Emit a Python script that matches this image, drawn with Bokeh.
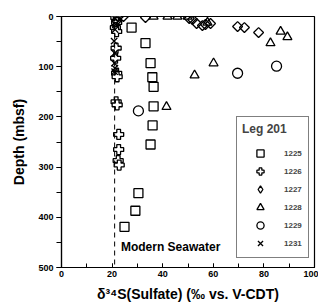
from bokeh.plotting import figure
from bokeh.models import Range1d, SingleIntervalTicker, Span, Label, Legend, LegendItem
from bokeh.embed import file_html
from bokeh.resources import INLINE

# ---- data ----
s1225_x = [27.7, 33.2, 35.2, 35.9, 36.4, 36.4, 36.0, 35.2, 30.4, 29.2, 24.9]
s1225_d = [22, 53, 93, 121, 140, 179, 217, 255, 352, 387, 419]

s1226_x = [21.5, 21.8, 21.3, 21.8, 21.6, 21.4, 21.8, 22.0, 21.6, 22.0, 22.6, 22.6, 22.4, 22.8]
s1226_d = [2, 12, 22, 30, 63, 83, 113, 120, 170, 176, 235, 265, 287, 296]

s1227_x = [22.5, 21.8, 24.5, 33.2, 50.5, 51.8, 53.4, 55.7, 56.9, 58.9, 69.6, 72.3, 77.9]
s1227_d = [0, 8, 0, 2, 4, 6, 14, 18, 16, 14, 20, 22, 32]

s1228_x = [36.4, 41.9, 45.8, 49.8, 57.7, 82.6, 86.6, 89.3, 60.1, 52.6, 41.5]
s1228_d = [0, 0, 0, 0, 12, 53, 30, 41, 93, 117, 180]

s1229_x = [30.4, 69.6, 85.0]
s1229_d = [188, 113, 99]

s1231_x = [21.0, 21.3, 21.2, 20.8, 21.0, 20.9, 21.1, 21.0]
s1231_d = [4, 16, 26, 49, 73, 93, 103, 110]

seawater = 21.0
site_labels = ["1225", "1226", "1227", "1228", "1229", "1231"]

FONT = "Liberation Sans"

p = figure(width=318, height=304, output_backend="svg", toolbar_location=None,
           x_range=Range1d(0, 100), y_range=Range1d(500, 0),
           min_border_left=61, min_border_right=4, min_border_top=16, min_border_bottom=35)
p.grid.visible = False
p.outline_line_color = "black"
p.outline_line_width = 1.2
p.background_fill_color = "white"
p.border_fill_color = "white"

p.xaxis.ticker = SingleIntervalTicker(interval=20, num_minor_ticks=2)
p.yaxis.ticker = SingleIntervalTicker(interval=100, num_minor_ticks=2)

for ax in (p.xaxis[0], p.yaxis[0]):
    ax.axis_line_color = "black"
    ax.axis_line_width = 1.2
    ax.major_tick_line_color = "black"
    ax.minor_tick_line_color = "black"
    ax.major_tick_line_width = 1
    ax.minor_tick_line_width = 1
    ax.major_label_text_font = FONT
    ax.major_label_text_font_style = "bold"
    ax.major_label_text_font_size = "9px"
    ax.major_label_text_color = "black"
    ax.axis_label_text_font = FONT
    ax.axis_label_text_font_style = "bold"
    ax.axis_label_text_font_size = "14px"
    ax.axis_label_text_color = "black"

xa = p.xaxis[0]
xa.major_tick_in = 4
xa.major_tick_out = 0
xa.minor_tick_in = 4
xa.minor_tick_out = 0
xa.major_label_standoff = 3
xa.axis_label = "δ³⁴S(Sulfate) (‰ vs. V-CDT)"
xa.axis_label_standoff = 6

ya = p.yaxis[0]
ya.major_tick_in = 0
ya.major_tick_out = 5
ya.minor_tick_in = 0
ya.minor_tick_out = 5
ya.major_label_standoff = 3
ya.axis_label = "Depth (mbsf)"
ya.axis_label_standoff = 8

p.add_layout(Span(location=seawater, dimension="height", line_color="black",
                  line_width=1, line_dash="5 4"))

lw = 1.3
r1 = p.scatter(s1225_x, s1225_d, marker="square", size=9, line_color="black",
               fill_color=None, line_width=lw)
r2 = p.scatter(s1226_x, s1226_d, marker="plus", size=10, line_color="black",
               fill_color="white", line_width=lw)
r3 = p.scatter(s1227_x, s1227_d, marker="square", angle=0.785, size=7, line_color="black",
               fill_color=None, line_width=lw)
r3_key = p.scatter([float("nan")], [float("nan")], marker="diamond", size=9,
                   line_color="black", fill_color=None, line_width=lw)
r4 = p.scatter(s1228_x, s1228_d, marker="triangle", size=9, line_color="black",
               fill_color=None, line_width=lw)
r5 = p.scatter(s1229_x, s1229_d, marker="circle", size=10, line_color="black",
               fill_color=None, line_width=lw)
r6 = p.scatter(s1231_x, s1231_d, marker="x", size=9, line_color="black",
               line_width=lw)

p.add_layout(Label(x=23.5, y=460, text="Modern Seawater", text_font=FONT,
                   text_font_style="bold", text_font_size="12px",
                   text_baseline="middle", text_color="black"))

items = [LegendItem(label=lab, renderers=[r]) for lab, r in
         zip(site_labels, [r1, r2, r3_key, r4, r5, r6])]
legend = Legend(items=items, location=(175, 9), title="Leg 201",
                title_text_font=FONT, title_text_font_style="bold",
                title_text_font_size="12px", title_standoff=8,
                label_text_font=FONT, label_text_font_style="bold",
                label_text_font_size="8px", label_standoff=6, label_width=19,
                glyph_width=36, glyph_height=18, label_height=18, spacing=0,
                padding=5, margin=0,
                border_line_color="black", border_line_width=1,
                background_fill_color="white", background_fill_alpha=1)
p.add_layout(legend)

html = file_html(p, INLINE)
html = html.replace("<head>", "<head><style>html,body{overflow:hidden}</style>", 1)
open("out.html", "w").write(html)
